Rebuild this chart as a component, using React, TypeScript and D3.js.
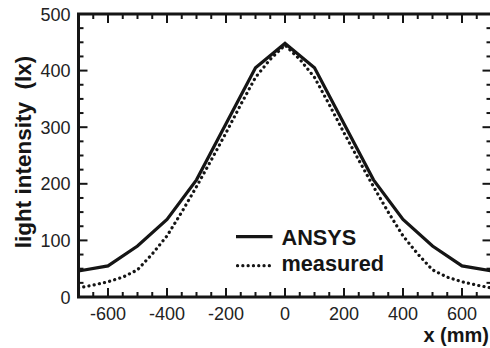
import React from "react";
import * as d3 from "d3";

const xPositions = [-700, -600, -500, -400, -300, -200, -100, 0, 100, 200, 300, 400, 500, 600, 700];
const ansysValues = [46, 55, 90, 137, 207, 306, 405, 448, 405, 306, 207, 137, 90, 55, 46];
const measuredX = [-700, -650, -600, -550, -500, -450, -400, -350, -300, -250, -200, -150, -100, -50, 0, 50, 100, 150, 200, 250, 300, 350, 400, 450, 500, 550, 600, 650, 700];
const measuredValues = [16, 21, 27, 35, 48, 76, 108, 150, 195, 242, 290, 340, 388, 420, 445, 420, 388, 340, 290, 242, 195, 150, 108, 76, 48, 35, 27, 21, 16];
const xTickLabels = [-600, -400, -200, 0, 200, 400, 600];
const yTickLabels = [0, 100, 200, 300, 400, 500];
const seriesNames = ["ANSYS", "measured"];

const W = 490, H = 348;
const left = 78.5, right = 491.5, top = 14, bottom = 297;

export default function App() {
  const x = d3.scaleLinear().domain([-700, 700]).range([left, right]);
  const y = d3.scaleLinear().domain([0, 500]).range([bottom, top]);
  const line = d3.line<[number, number]>().x((d) => x(d[0])).y((d) => y(d[1]));
  const ansysPts = xPositions.map((v, i) => [v, ansysValues[i]] as [number, number]);
  const measPts = measuredX.map((v, i) => [v, measuredValues[i]] as [number, number]);
  const xMinor = d3.range(-700, 701, 50);
  const yMinor = d3.range(0, 501, 25);
  const col = "#151515";
  const font = "Liberation Sans, Arial, Helvetica, sans-serif";
  return (
    <svg width={W} height={H} style={{ position: "absolute", left: 0, top: 0, background: "#fff" }}>
      <defs>
        <clipPath id="plot">
          <rect x={left} y={top} width={right - left} height={bottom - top} />
        </clipPath>
      </defs>
      <g clipPath="url(#plot)">
        <path d={line(ansysPts) || ""} fill="none" stroke={col} strokeWidth={3.2} strokeLinejoin="miter" />
        <path d={line(measPts) || ""} fill="none" stroke={col} strokeWidth={3.2} strokeDasharray="0.1 5.2" strokeLinecap="round" />
      </g>
      {xMinor.map((v) => {
        const major = v % 200 === 0;
        const len = major ? 9 : 5;
        return (
          <g key={"xt" + v}>
            <line x1={x(v)} x2={x(v)} y1={bottom} y2={bottom - len} stroke={col} strokeWidth={2} />
            <line x1={x(v)} x2={x(v)} y1={top} y2={top + len} stroke={col} strokeWidth={2} />
          </g>
        );
      })}
      {yMinor.map((v) => {
        const major = v % 100 === 0;
        const len = major ? 9 : 5;
        return (
          <g key={"yt" + v}>
            <line x1={left} x2={left + len} y1={y(v)} y2={y(v)} stroke={col} strokeWidth={2} />
            <line x1={right} x2={right - len} y1={y(v)} y2={y(v)} stroke={col} strokeWidth={2} />
          </g>
        );
      })}
      <rect x={left} y={top} width={right - left} height={bottom - top} fill="none" stroke={col} strokeWidth={3} />
      {xTickLabels.map((v) => (
        <text key={"xl" + v} x={x(v)} y={320} textAnchor="middle" fontFamily={font} fontSize={18} fill="#222">
          {v}
        </text>
      ))}
      {yTickLabels.map((v) => (
        <text key={"yl" + v} x={70.5} y={y(v) + 6.5} textAnchor="end" fontFamily={font} fontSize={18} fill="#222">
          {v}
        </text>
      ))}
      <text x={489} y={342} textAnchor="end" fontFamily={font} fontSize={20} fontWeight="bold" fill={col}>
        x (mm)
      </text>
      <text
        transform={`translate(31,152) rotate(-90)`}
        textAnchor="middle"
        fontFamily={font}
        fontSize={22.5}
        fontWeight="bold"
        fill={col}
        style={{ whiteSpace: "pre" }}
      >
        {"light intensity  (lx)"}
      </text>
      <line x1={236} x2={272.5} y1={236.7} y2={236.7} stroke={col} strokeWidth={3.2} />
      <line x1={237.5} x2={272.5} y1={265.7} y2={265.7} stroke={col} strokeWidth={3.2} strokeDasharray="0.1 5.2" strokeLinecap="round" />
      <text x={281.5} y={245} fontFamily={font} fontSize={21.7} fontWeight="bold" fill={col}>
        {seriesNames[0]}
      </text>
      <text x={281.5} y={270.5} fontFamily={font} fontSize={21.7} fontWeight="bold" fill={col}>
        {seriesNames[1]}
      </text>
    </svg>
  );
}
